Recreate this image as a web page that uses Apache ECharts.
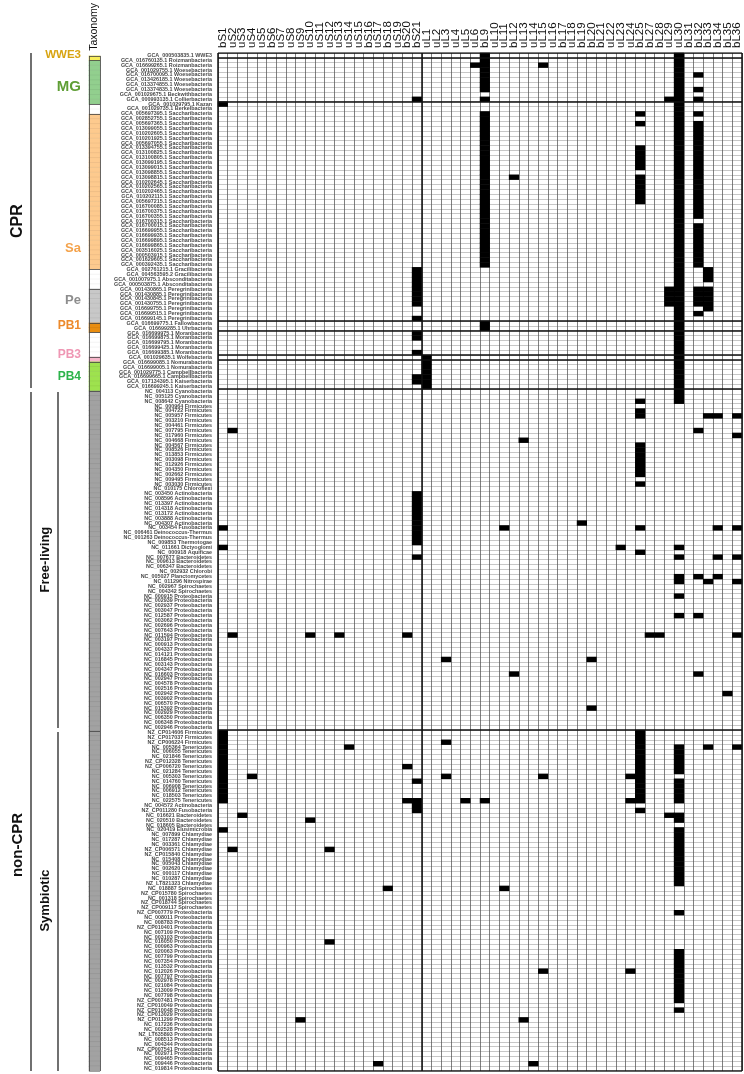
<!DOCTYPE html>
<html><head><meta charset="utf-8">
<script src="https://cdn.jsdelivr.net/npm/echarts@6/dist/echarts.min.js"></script>
<style>html,body{margin:0;padding:0;background:#fff}#c{width:744px;height:1074px}</style>
</head><body><div id="c"></div>
<script>
// ---------- DATA ----------
const proteins = ['bS1','uS2','uS3','uS4','uS5','bS6','uS7','uS8','uS9','uS10','uS11','uS12','uS13','uS14','uS15','bS16','uS17','bS18','uS19','bS20','bS21',
  'uL1','uL2','uL3','uL4','uL5','uL6','bL9','uL10','uL11','bL12','uL13','uL14','uL15','uL16','bL17','uL18','bL19','bL20','bL21','uL22','uL23','uL24','bL25','bL27','bL28','uL29','uL30','bL31','bL32','bL33','bL34','bL35','bL36'];

const rowLabels = [
'GCA_000503835.1 WWE3','GCA_016760135.1 Roizmanbacteria','GCA_016699265.1 Roizmanbacteria','GCA_001029755.1 Woesebacteria','GCA_016700095.1 Woesebacteria',
'GCA_013426185.1 Woesebacteria','GCA_013374855.1 Woesebacteria','GCA_013374835.1 Woesebacteria','GCA_001029675.1 Beckwithbacteria','GCA_000993135.1 Collierbacteria',
'GCA_001029795.1 Kazan','GCA_001029735.1 Berkelbacteria','GCA_005697395.1 Saccharibacteria','GCA_002852755.1 Saccharibacteria','GCA_005697365.1 Saccharibacteria',
'GCA_013099055.1 Saccharibacteria','GCA_010202605.1 Saccharibacteria','GCA_010201925.1 Saccharibacteria','GCA_005697055.1 Saccharibacteria','GCA_013394755.1 Saccharibacteria',
'GCA_013100825.1 Saccharibacteria','GCA_013100805.1 Saccharibacteria','GCA_013099195.1 Saccharibacteria','GCA_013099015.1 Saccharibacteria','GCA_013098855.1 Saccharibacteria',
'GCA_013098815.1 Saccharibacteria','GCA_010202645.1 Saccharibacteria','GCA_010202565.1 Saccharibacteria','GCA_010202465.1 Saccharibacteria','GCA_010202115.1 Saccharibacteria',
'GCA_005697215.1 Saccharibacteria','GCA_016700085.1 Saccharibacteria','GCA_016700375.1 Saccharibacteria','GCA_016700355.1 Saccharibacteria','GCA_016700315.1 Saccharibacteria',
'GCA_016700015.1 Saccharibacteria','GCA_016699955.1 Saccharibacteria','GCA_016699935.1 Saccharibacteria','GCA_016699895.1 Saccharibacteria','GCA_016699865.1 Saccharibacteria',
'GCA_003516025.1 Saccharibacteria','GCA_000503915.1 Saccharibacteria','GCA_001629605.1 Saccharibacteria','GCA_000392435.1 Saccharibacteria','GCA_002761215.1 Gracilibacteria',
'GCA_004563595.2 Gracilibacteria','GCA_001007975.1 Absconditabacteria','GCA_000503875.1 Absconditabacteria','GCA_001430865.1 Peregrinibacteria','GCA_001430885.1 Peregrinibacteria',
'GCA_001430845.1 Peregrinibacteria','GCA_001430755.1 Peregrinibacteria','GCA_016699755.1 Peregrinibacteria','GCA_016699515.1 Peregrinibacteria','GCA_016699145.1 Peregrinibacteria',
'GCA_016699775.1 Fallowbacteria','GCA_016699285.1 Uhrbacteria','GCA_016699975.1 Moranbacteria','GCA_016699875.1 Moranbacteria','GCA_016699795.1 Moranbacteria',
'GCA_016699425.1 Moranbacteria','GCA_016699385.1 Moranbacteria','GCA_001029635.1 Wolfebacteria','GCA_016699085.1 Nomurabacteria','GCA_016699005.1 Nomurabacteria',
'GCA_001029775.1 Campbellbacteria','GCA_016699665.1 Campbellbacteria','GCA_017134395.1 Kaiserbacteria','GCA_016699245.1 Kaiserbacteria','NC_004113 Cyanobacteria',
'NC_005125 Cyanobacteria','NC_008642 Cyanobacteria','NC_000964 Firmicutes','NC_004722 Firmicutes','NC_005957 Firmicutes',
'NC_003210 Firmicutes','NC_004461 Firmicutes','NC_007795 Firmicutes','NC_017960 Firmicutes','NC_004668 Firmicutes',
'NC_004567 Firmicutes','NC_008526 Firmicutes','NC_013853 Firmicutes','NC_003098 Firmicutes','NC_012926 Firmicutes',
'NC_004350 Firmicutes','NC_002662 Firmicutes','NC_009495 Firmicutes','NC_003030 Firmicutes','NC_010175 Chloroflexi',
'NC_003450 Actinobacteria','NC_008596 Actinobacteria','NC_013397 Actinobacteria','NC_014318 Actinobacteria','NC_013172 Actinobacteria',
'NC_003888 Actinobacteria','NC_004307 Actinobacteria','NC_003454 Fusobacteria','NC_006461 Deinococcus-Thermus','NC_001263 Deinococcus-Thermus',
'NC_009853 Thermotogae','NC_011661 Dictyoglomi','NC_000918 Aquificae','NC_007677 Bacteroidetes','NC_009613 Bacteroidetes',
'NC_006347 Bacteroidetes','NC_002932 Chlorobi','NC_005027 Planctomycetes','NC_011296 Nitrospirae','NC_002967 Spirochaetes',
'NC_004342 Spirochaetes','NC_000915 Proteobacteria','NC_002939 Proteobacteria','NC_002937 Proteobacteria','NC_003047 Proteobacteria',
'NC_012587 Proteobacteria','NC_003062 Proteobacteria','NC_002696 Proteobacteria','NC_007643 Proteobacteria','NC_011594 Proteobacteria',
'NC_003197 Proteobacteria','NC_000913 Proteobacteria','NC_004337 Proteobacteria','NC_014121 Proteobacteria','NC_016845 Proteobacteria',
'NC_003143 Proteobacteria','NC_004347 Proteobacteria','NC_016603 Proteobacteria','NC_002947 Proteobacteria','NC_004578 Proteobacteria',
'NC_002516 Proteobacteria','NC_002942 Proteobacteria','NC_003902 Proteobacteria','NC_006570 Proteobacteria','NC_015392 Proteobacteria',
'NC_002929 Proteobacteria','NC_006350 Proteobacteria','NC_006348 Proteobacteria','NC_002946 Proteobacteria','NZ_CP014606 Firmicutes',
'NZ_CP017037 Firmicutes','NZ_CP006224 Firmicutes','NC_005364 Tenericutes','NC_006055 Tenericutes','NC_021846 Tenericutes',
'NZ_CP012328 Tenericutes','NZ_CP006720 Tenericutes','NC_021284 Tenericutes','NC_005303 Tenericutes','NC_014760 Tenericutes',
'NC_006908 Tenericutes','NC_006912 Tenericutes','NC_018503 Tenericutes','NC_022575 Tenericutes','NC_004572 Actinobacteria',
'NZ_CP011280 Fusobacteria','NC_016621 Bacteroidetes','NC_020510 Bacteroidetes','NC_018605 Bacteroidetes','NC_020419 Elusimicrobia',
'NC_007899 Chlamydiae','NC_017287 Chlamydiae','NC_003361 Chlamydiae','NZ_CP006571 Chlamydiae','NZ_CP015840 Chlamydiae',
'NC_015408 Chlamydiae','NC_005043 Chlamydiae','NC_002620 Chlamydiae','NC_000117 Chlamydiae','NC_010287 Chlamydiae',
'NZ_LT821323 Chlamydiae','NC_018887 Spirochaetes','NZ_CP015780 Spirochaetes','NC_001318 Spirochaetes','NZ_CP018744 Spirochaetes',
'NZ_CP009117 Spirochaetes','NZ_CP007779 Proteobacteria','NC_008011 Proteobacteria','NC_008783 Proteobacteria','NZ_CP010401 Proteobacteria',
'NC_007109 Proteobacteria','NC_003103 Proteobacteria','NC_016050 Proteobacteria','NC_000963 Proteobacteria','NC_020063 Proteobacteria',
'NC_007799 Proteobacteria','NC_007354 Proteobacteria','NC_013532 Proteobacteria','NC_012026 Proteobacteria','NC_007797 Proteobacteria',
'NC_002978 Proteobacteria','NC_021084 Proteobacteria','NC_013009 Proteobacteria','NC_007798 Proteobacteria','NZ_CP007481 Proteobacteria',
'NZ_CP010049 Proteobacteria','NZ_CP010048 Proteobacteria','NZ_CP013029 Proteobacteria','NZ_CP011299 Proteobacteria','NC_017236 Proteobacteria',
'NC_002528 Proteobacteria','NZ_LT635893 Proteobacteria','NC_008513 Proteobacteria','NC_004344 Proteobacteria','NZ_CP007541 Proteobacteria',
'NC_002971 Proteobacteria','NC_009465 Proteobacteria','NC_009446 Proteobacteria','NC_019814 Proteobacteria'
];

// proteins drawn black (absent) for each row, top to bottom
const absent = [
// 1-10
'bL9 uL30','bL9 uL30','uL6 bL9 uL15 uL30','bL9 uL30','bL9 uL30 bL32','bL9 uL30','bL9 uL30','bL9 uL30 bL32','uL30','bS21 bL9 uL29 uL30 bL32',
// 11-20
'bS1 uL30','uL30','bL9 bL25 uL30 bL32','bL9 uL30','bL9 bL25 uL30 bL32','bL9 uL30 bL32','bL9 uL30 bL32','bL9 uL30 bL32','bL9 uL30 bL32','bL9 bL25 uL30 bL32',
// 21-30
'bL9 bL25 uL30 bL32','bL9 bL25 uL30 bL32','bL9 bL25 uL30 bL32','bL9 bL25 uL30 bL32','bL9 uL30 bL32','bL9 bL12 bL25 uL30 bL32','bL9 bL25 uL30 bL32','bL9 bL25 uL30 bL32','bL9 bL25 uL30 bL32','bL9 bL25 uL30 bL32',
// 31-40
'bL9 bL25 uL30 bL32','bL9 uL30 bL32','bL9 uL30 bL32','bL9 uL30 bL32','bL9 uL30','bL9 uL30 bL32','bL9 uL30 bL32','bL9 uL30 bL32','bL9 uL30 bL32','bL9 uL30 bL32',
// 41-50
'bL9 uL30 bL32','bL9 uL30 bL32','bL9 uL30 bL32','bL9 uL30 bL32','bS21 uL30 bL33','bS21 uL30 bL33','bS21 uL30 bL33','bS21 uL30','bS21 uL29 uL30 bL32 bL33','bS21 uL29 uL30 bL32 bL33',
// 51-60
'bS21 uL29 uL30 bL32 bL33','bS21 uL29 uL30 bL32 bL33','uL30 bL33','uL30 bL32','bS21 uL30','bL9 uL30','bL9 uL30','bS21 uL30','bS21 uL30','uL30',
// 61-70
'uL30','bS21 uL30','uL1 uL30','uL1 uL30','uL1 uL30','uL1 uL30','bS21 uL1 uL30','bS21 uL1 uL30','uL1 uL30','uL30',
// 71-80
'uL30','bL25 uL30','','bL25','bL25 bL33 bL34 bL36','','','uS2 bL32','bL36','uL13',
// 81-90
'bL25','bL25','bL25','bL25','bL25','bL25','bL25','','bL25','',
// 91-100
'bS21','bS21','bS21','bS21','bS21','bS21','bS21 bL19','bS1 bS21 uL11 bL25 bL34 bL36','bS21','bS21',
// 101-110
'bS21','bS1 uL23 uL30','bL25','bS21 uL30 bL34 bL36','','','','uL30 bL32 bL34','uL30 bL33 bL36','',
// 111-120
'','uL30','','','','uL30 bL32','','','','uS2 uS10 uS13 bS20 bL27 bL28 bL36',
// 121-130
'','','','','uL3 bL20','','','bL12 bL32','','',
// 131-140
'','bL35','','','bL20','','','','','bS1 bL25',
// 141-150
'bS1 bL25','bS1 uL3 bL25','bS1 uS14 bL25 uL30 bL33 bL36','bS1 bL25 uL30','bS1 bL25 uL30','bS1 bL25 uL30','bS1 bS20 bL25 uL30','bS1 bL25 uL30','bS1 uS4 uL3 uL15 uL24 bL25','bS1 bS21 bL25 uL30',
// 151-160
'bS1 bL25 uL30','bS1 bL25 uL30','bS1 bL25 uL30','bS1 bS20 bS21 uL5 bL9 uL24 bL25 uL30','bS21','bS21 bL25','uS3 uL29 uL30','uS10 uL30','','bS1 uL30',
// 161-170
'uL30','uL30','uL30','uS2 uS12 uL30','uL30','uL30','uL30','uL30','uL30','uL30',
// 171-180
'uL30','bS18 uL11','','','','','uL30','','','',
// 181-190
'','','uS12','','uL30','uL30','uL30','uL30','uL15 uL24 uL30','uL30',
// 191-200
'uL30','uL30','uL30','uL30','uL30','','uL30','','uS9 uL13','',
// 201-209
'','','','','','','','uS17 uL14',''
];

// taxonomy bar segments: [group, first row, last row]
const taxonomy = [['WWE3',1,1],['MG',2,10],['',11,12],['Sa',13,44],['',45,48],['Pe',49,55],['PB1',56,57],['',58,62],['PB3',63,63],['PB4',64,69],['non-CPR',70,139],['non-CPR',140,209]];
const groupBreaks = [1,10,55,57,62,63,69,139];
const subunitBreak = 21;

// ---------- STYLE ----------
const taxColors = {'WWE3':'#f8ee5a','MG':'#92cf8e','':'#ffffff','Sa':'#fdca8e','Pe':'#c8c8c8','PB1':'#e98d10','PB3':'#f6b6ca','PB4':'#9ee24e','non-CPR':'#a2a2a2'};
const FONT = 'Liberation Sans, Arial, sans-serif';
const GT = 53, GH = 1018;

const nR = rowLabels.length, nC = proteins.length;
const cells = [];
absent.forEach((s, r) => {
  const set = s.split(' ').filter(Boolean);
  proteins.forEach((p, c) => cells.push([c, r, set.indexOf(p) >= 0 ? 1 : 0]));
});
const taxData = [];
taxonomy.forEach(([g, a, b]) => { for (let r = a; r <= b; r++) taxData.push({value:[0, r-1, 0], itemStyle:{color: taxColors[g]}}); });

const boundLines = groupBreaks.map(b => ({coords:[[0,b],[nC,b]]}));
boundLines.push({coords:[[subunitBreak,0],[subunitBreak,nR]]});
boundLines.push({coords:[[0,0],[nC,0]]},{coords:[[0,nR],[nC,nR]]},{coords:[[0,0],[0,nR]]},{coords:[[nC,0],[nC,nR]]});

const taxLines = [];
taxonomy.forEach(([g,a,b]) => { taxLines.push({coords:[[0,a-1],[1,a-1]]}); });
taxLines.push({coords:[[0,nR],[1,nR]]},{coords:[[0,0],[0,nR]]},{coords:[[1,0],[1,nR]]});

const chart = echarts.init(document.getElementById('c'));
chart.setOption({
  animation:false,
  backgroundColor:'#fff',
  grid:[{left:218, top:GT, width:524, height:GH},{left:89, top:GT, width:11, height:GH}],
  xAxis:[
    {type:'category', gridIndex:0, position:'top', data:proteins,
     axisLine:{show:false}, axisTick:{show:false},
     axisLabel:{interval:0, rotate:90, margin:5, fontSize:11.5, color:'#111', fontFamily:FONT},
     splitLine:{show:true, interval:0, lineStyle:{color:'#555', width:0.75}}},
    {type:'value', gridIndex:0, min:0, max:nC, show:false},
    {type:'category', gridIndex:1, position:'top', data:['Taxonomy'],
     axisLine:{show:false}, axisTick:{show:false},
     axisLabel:{interval:0, rotate:90, margin:5, fontSize:10.5, color:'#111', fontFamily:FONT}},
    {type:'value', gridIndex:1, min:0, max:1, show:false}
  ],
  yAxis:[
    {type:'category', gridIndex:0, inverse:true, data:rowLabels,
     axisLine:{show:false}, axisTick:{show:false},
     axisLabel:{interval:0, margin:6, fontSize:5.4, fontWeight:'bold', color:'#4a4a4a', fontFamily:FONT},
     splitLine:{show:true, interval:0, lineStyle:{color:'#999', width:0.55}}},
    {type:'value', gridIndex:0, min:0, max:nR, inverse:true, show:false},
    {type:'category', gridIndex:1, inverse:true, data:rowLabels, show:false},
    {type:'value', gridIndex:1, min:0, max:nR, inverse:true, show:false}
  ],
  visualMap:{type:'piecewise', show:false, seriesIndex:0, dimension:2,
    pieces:[{value:0, color:'rgba(255,255,255,0)'},{value:1, color:'#000'}]},
  series:[
    {type:'heatmap', xAxisIndex:0, yAxisIndex:0, data:cells, silent:true, z:2},
    {type:'heatmap', xAxisIndex:2, yAxisIndex:2, data:taxData, silent:true, z:2,
     itemStyle:{borderColor:'rgba(0,0,0,0.12)', borderWidth:0.4}},
    {type:'lines', coordinateSystem:'cartesian2d', xAxisIndex:1, yAxisIndex:1, data:boundLines, silent:true, z:5,
     lineStyle:{color:'#111', width:1.5, opacity:1}},
    {type:'lines', coordinateSystem:'cartesian2d', xAxisIndex:3, yAxisIndex:3, data:taxLines, silent:true, z:5,
     lineStyle:{color:'#444', width:0.8, opacity:1}}
  ]
});

// ---------- annotations (positions derived from the row scale) ----------
const yOf = b => chart.convertToPixel({xAxisIndex:1, yAxisIndex:1}, [0, b])[1];
const lab = (t, x, y, size, color) => ({type:'text', x:x, y:y, silent:true,
  style:{text:t, align:'right', verticalAlign:'middle', font:'bold '+size+'px '+FONT, fill:color}});
const vtext = (t, x, y, size) => ({type:'text', x:x, y:y, rotation:Math.PI/2, silent:true,
  style:{text:t, align:'center', verticalAlign:'middle', font:'bold '+size+'px '+FONT, fill:'#111'}});
const vline = (x, y1, y2) => ({type:'line', silent:true, shape:{x1:x, y1:y1, x2:x, y2:y2}, style:{stroke:'#111', lineWidth:1.2}});

chart.setOption({graphic:[
  lab('WWE3', 81, 55, 11.5, '#d8a412'),
  lab('MG', 81, 87, 15, '#5f9e35'),
  lab('Sa', 81, 248, 13, '#f4a34c'),
  lab('Pe', 81, 300, 13, '#8d8d8d'),
  lab('PB1', 81, 326, 12, '#ec8a2c'),
  lab('PB3', 81, 355, 12, '#ef97b4'),
  lab('PB4', 81, 377, 12, '#2db34b'),
  vline(31, yOf(0), yOf(69) - 1),
  vline(31, yOf(69) + 3, yOf(nR)),
  vline(58, yOf(69) + 3, yOf(139) - 2),
  vline(58, yOf(139) + 2, yOf(nR)),
  vtext('CPR', 18, (yOf(0) + yOf(69)) / 2, 16),
  vtext('non-CPR', 18, 845, 15),
  vtext('Free-living', 45, (yOf(69) + yOf(139)) / 2, 13),
  vtext('Symbiotic', 45, (yOf(139) + yOf(nR)) / 2, 13)
]});
</script>
</body></html>
